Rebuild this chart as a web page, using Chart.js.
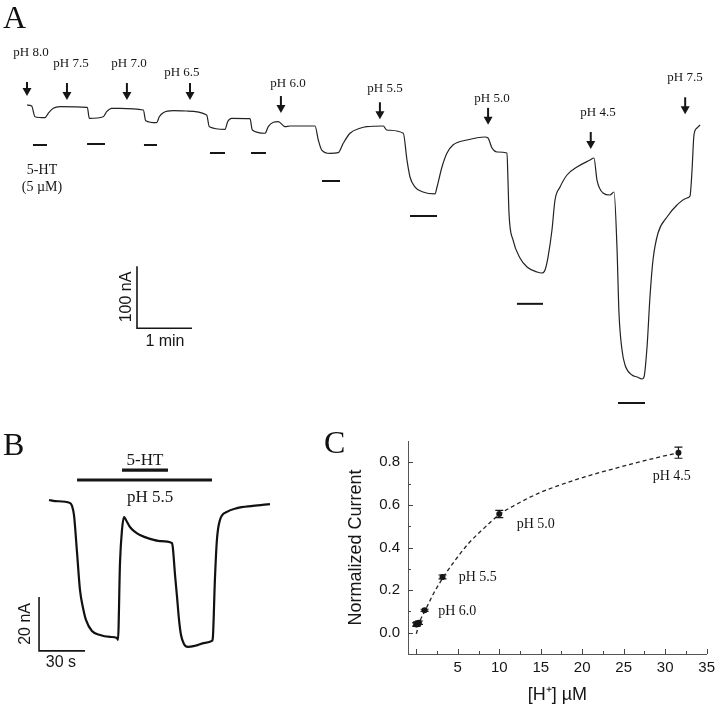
<!DOCTYPE html>
<html><head><meta charset="utf-8">
<script src="https://cdn.jsdelivr.net/npm/chart.js@4.4.1/dist/chart.umd.min.js"></script>
<style>
html,body{margin:0;padding:0;background:#fff;}
#wrap{position:relative;width:720px;height:708px;overflow:hidden;background:#fff;}
.box{position:absolute;}
.lt{position:absolute;font-family:'Liberation Serif','Times New Roman',serif;font-size:32px;line-height:32px;color:#111;}
</style></head><body>
<div id="wrap">
<div class="box" style="left:0;top:0;width:720px;height:420px"><canvas id="cA" width="720" height="420"></canvas></div>
<div class="box" style="left:0;top:400px;width:300px;height:308px"><canvas id="cB" width="300" height="308"></canvas></div>
<div class="box" style="left:300px;top:420px;width:420px;height:288px"><canvas id="cC" width="420" height="288"></canvas></div>
<div class="lt" style="left:3px;top:1px">A</div>
<div class="lt" style="left:3px;top:428px">B</div>
<div class="lt" style="left:324px;top:426px">C</div>
</div>
<script>
// ---------- Panel A: current trace (time in s, current in nA) ----------
const tA = [0,5.1,8.7,19.6,23.2,28.7,36,65.8,68,83.2,86.9,92.4,101.5,126.9,129.5,141.5,144.3,148.7,159.6,174.2,196,198.9,216,218.9,223.3,243.3,245.8,259.6,263.2,268.7,274.1,281.5,286.9,314.2,317.8,321.5,330.5,339.6,345,352.4,363.3,370.6,388.7,392.4,410.5,414.5,417.8,423.3,432,445.1,447.3,452.7,458.2,464.7,480,499.6,502.9,507.3,512.7,523.6,524.7,525.8,530.2,537.8,545.5,556.4,561.8,565.1,568.4,572.7,576,581.5,589.1,600,614.2,618.5,621.8,628.4,636,640.4,643.6,645.8,649.1,652.4,660,665.5,670.9,673.1,676.4,679.6,682.9,688.4,698.2,709.1,720,723.3,725.5,727.6,730.9,734.2];
const iA = [0,-1.6,-18.9,-20.5,-13.4,-5.3,-2.7,-3.7,-21.5,-18.9,-10.8,-5.3,-5.3,-8.1,-25.3,-28.5,-18.9,-12.4,-9.2,-9.7,-16.1,-35,-39.2,-26.9,-21.5,-22.1,-40.3,-45.6,-35,-27.9,-26.9,-35,-33.9,-33.9,-56.5,-72.6,-77.9,-76.9,-61.8,-45.6,-37.6,-35,-33.9,-40.3,-45.6,-88.7,-116.1,-132.3,-140.3,-143.5,-132.3,-100,-77.4,-64.5,-56.5,-51.6,-53.2,-69.4,-75.8,-77.4,-121,-174.2,-217.7,-246.8,-261.3,-269.4,-271,-266.1,-245.2,-201.6,-153.2,-132.3,-112.9,-100,-88.7,-85.5,-121,-141.9,-145.2,-140.3,-229,-335.5,-395.2,-419.4,-435.5,-438.7,-441.9,-438.7,-390.3,-309.7,-250,-206.5,-180.6,-161.3,-150,-146.8,-104.8,-48.4,-37.1,-32.3];
// pH change arrows
const phLabelsA = ['pH 8.0','pH 7.5','pH 7.0','pH 6.5','pH 6.0','pH 5.5','pH 5.0','pH 4.5','pH 7.5'];
const arrowTimeA = [0,43.6,109,177.8,277,385,503,615,718];
const arrowTipA = [14.5,8,8,8,-13,-23,-32,-71,-15];
const labelTimeA = [4.4,48,111.3,169,284.7,390.5,507.3,622.9,717.8];
const labelLevelA = [84,66,66,53,35,27,11,-13,44];
// 5-HT application bars
const htStartA = [6.5,65.5,127.6,199.6,244.4,321.8,417.8,534.5,644.7];
const htEndA = [21.8,85.1,141.8,216,260.7,341.5,447.3,562.9,674.2];
const htLevelA = [-64.5,-62.9,-64.5,-77.4,-77.4,-122.6,-179,-320.7,-480.6];
// scale bar: 1 min x 100 nA
const scaleTA = [120,120,180];
const scaleIA = [-260,-360,-360];

// ---------- Panel B ----------
const tB = [0,3.9,13.7,15,16.3,18.3,20.2,22.2,24.1,28,33.3,39.8,44.3,45,46.3,47.6,48.9,50.2,52.8,56.1,59.3,65.9,72.4,80.2,80.8,82.2,83.5,84.8,86.1,88,90.6,95.2,101.7,106.3,106.9,108.2,109.5,111.5,116,122.6,133,144.1];
const iB = [0,-0.4,-1.1,-2.2,-5.6,-19.6,-33.3,-40,-44.4,-48.5,-50,-50.7,-51.1,-51.8,-23.3,-11.1,-6.3,-7.4,-10,-11.8,-13,-14.4,-15.2,-15.9,-17.8,-27.8,-35.9,-44.4,-50,-53.3,-54.4,-54,-52.9,-52.2,-50.7,-29.6,-14.8,-7.4,-4.4,-3,-2.2,-1.5];
const barsB = [{label:'pH 5.5', start:18.3, end:106.3, level:7.4}, {label:'5-HT', start:47.6, end:77.6, level:11.1}];
const scaleTB = [-6.5,-6.5,23.5];
const scaleIB = [-35.9,-55.9,-55.9];

// ---------- Panel C ----------
const phC = ['pH 8.0','pH 7.5','pH 7.0','pH 6.5','pH 6.0','pH 5.5','pH 5.0','pH 4.5'];
const hPlus = [0.01,0.03,0.1,0.32,1.0,3.16,10,31.6];
const normI = [0.038,0.040,0.043,0.047,0.105,0.262,0.557,0.845];
const semI = [0.008,0.008,0.008,0.008,0.005,0.009,0.017,0.026];
const fitX = [0.0,0.48,1.08,2.08,3.28,4.69,6.29,7.9,10.1,11.9,14.7,17.9,20.7,24.7,28.7,31.6];
const fitY = [-0.005,0.058,0.105,0.184,0.262,0.34,0.419,0.481,0.557,0.599,0.654,0.701,0.736,0.779,0.819,0.845];
const xTicksC = [5,10,15,20,25,30,35];
const yTicksC = [0,0.2,0.4,0.6,0.8];
const phLabelC = {'pH 6.0':[4.93,0.098],'pH 5.5':[7.4,0.26],'pH 5.0':[14.4,0.509],'pH 4.5':[30.8,0.736]};

const SERIF = "'Liberation Serif','Times New Roman',serif";
const SANS = "'Liberation Sans',Arial,sans-serif";
const INK = '#161616';
Chart.defaults.font.family = SANS;
Chart.defaults.color = INK;

const zip = (xs, ys) => xs.map((x,i)=>({x, y:ys[i]}));
const base = (xmin,xmax,ymin,ymax) => ({
  responsive:false, animation:false, devicePixelRatio:1,
  layout:{padding:0, autoPadding:false},
  plugins:{legend:{display:false}, tooltip:{enabled:false}},
  scales:{x:{type:'linear',display:false,min:xmin,max:xmax}, y:{type:'linear',display:false,min:ymin,max:ymax}}
});

function text(ctx, s, x, y, font, rot){
  ctx.save(); ctx.translate(x,y); if(rot) ctx.rotate(rot);
  ctx.font = font; ctx.textAlign='center'; ctx.textBaseline='middle'; ctx.fillStyle=INK;
  ctx.fillText(s,0,0); ctx.restore();
}
function hbar(ctx, sx, s, e, lvl, sy, w){
  const py = sy.getPixelForValue(lvl);
  ctx.lineWidth = w; ctx.strokeStyle = INK; ctx.beginPath();
  ctx.moveTo(sx.getPixelForValue(s), py); ctx.lineTo(sx.getPixelForValue(e), py); ctx.stroke();
}

const annotA = {id:'annotA', afterDatasetsDraw(chart){
  const {ctx, scales:{x,y}} = chart;
  ctx.save();
  htStartA.forEach((s,i)=>hbar(ctx,x,s,htEndA[i],htLevelA[i],y,2));
  ctx.fillStyle = INK; ctx.strokeStyle = INK;
  arrowTimeA.forEach((t,i)=>{
    const px = x.getPixelForValue(t), tip = y.getPixelForValue(arrowTipA[i]);
    const len = i===0 ? 14 : 17;
    ctx.lineWidth = 2; ctx.beginPath(); ctx.moveTo(px, tip-len); ctx.lineTo(px, tip-6); ctx.stroke();
    ctx.beginPath(); ctx.moveTo(px-4.5, tip-8); ctx.lineTo(px+4.5, tip-8); ctx.lineTo(px, tip); ctx.closePath(); ctx.fill();
    text(ctx, phLabelsA[i], x.getPixelForValue(labelTimeA[i]), y.getPixelForValue(labelLevelA[i]), '13px '+SERIF);
  });
  text(ctx, '5-HT', x.getPixelForValue(16.4), y.getPixelForValue(-104.8), '14px '+SERIF);
  text(ctx, '(5 \u00B5M)', x.getPixelForValue(16.4), y.getPixelForValue(-132.3), '14px '+SERIF);
  text(ctx, '100 nA', x.getPixelForValue(109), y.getPixelForValue(-309.7), '16px '+SANS, -Math.PI/2);
  text(ctx, '1 min', x.getPixelForValue(150.5), y.getPixelForValue(-381), '16px '+SANS);
  ctx.restore();
}};

new Chart(document.getElementById('cA'), {
  type:'scatter',
  data:{datasets:[
    {data:zip(tA,iA), showLine:true, borderColor:'#222', borderWidth:1.2, pointRadius:0, cubicInterpolationMode:'monotone'},
    {data:zip(scaleTA,scaleIA), showLine:true, borderColor:INK, borderWidth:1.6, pointRadius:0}
  ]},
  options: base(-29.45, 756, -508.06, 169.35),
  plugins:[annotA]
});

const annotB = {id:'annotB', afterDatasetsDraw(chart){
  const {ctx, scales:{x,y}} = chart;
  ctx.save();
  barsB.forEach(b=>hbar(ctx,x,b.start,b.end,b.level,y,3.2));
  text(ctx, '5-HT', x.getPixelForValue(62.6), y.getPixelForValue(14.8), '17px '+SERIF);
  text(ctx, 'pH 5.5', x.getPixelForValue(65.9), y.getPixelForValue(1.1), '17px '+SERIF);
  text(ctx, '20 nA', x.getPixelForValue(-15), y.getPixelForValue(-45.9), '16px '+SANS, -Math.PI/2);
  text(ctx, '30 s', x.getPixelForValue(7.8), y.getPixelForValue(-60.3), '16px '+SANS);
  ctx.restore();
}};

new Chart(document.getElementById('cB'), {
  type:'scatter',
  data:{datasets:[
    {data:zip(tB,iB), showLine:true, borderColor:'#111', borderWidth:2.2, pointRadius:0, cubicInterpolationMode:'monotone'},
    {data:zip(scaleTB,scaleIB), showLine:true, borderColor:INK, borderWidth:1.6, pointRadius:0}
  ]},
  options: base(-31.96, 163.7, -77.04, 37.04),
  plugins:[annotB]
});

const annotC = {id:'annotC', afterDatasetsDraw(chart){
  const {ctx, scales:{x,y}} = chart;
  ctx.save();
  ctx.strokeStyle = INK; ctx.lineWidth = 1.2;
  // error bars
  hPlus.forEach((h,i)=>{
    const px = x.getPixelForValue(h), y1 = y.getPixelForValue(normI[i]-semI[i]), y2 = y.getPixelForValue(normI[i]+semI[i]);
    ctx.beginPath(); ctx.moveTo(px,y1); ctx.lineTo(px,y2);
    ctx.moveTo(px-4,y1); ctx.lineTo(px+4,y1); ctx.moveTo(px-4,y2); ctx.lineTo(px+4,y2); ctx.stroke();
  });
  // inward ticks
  ctx.strokeStyle = '#444'; ctx.lineWidth = 1;
  const x0 = x.left, yb = y.bottom;
  for(let k=0;k<=8;k++){ const v = k/10; const py = Math.round(y.getPixelForValue(v))+0.5; const L = (k%2===0)?5:3;
    ctx.beginPath(); ctx.moveTo(x0,py); ctx.lineTo(x0+L,py); ctx.stroke(); }
  for(let k=0;k<=14;k++){ const v = k*2.5; const px = Math.round(x.getPixelForValue(v))+0.5; const L = (k%2===0)?5:3;
    ctx.beginPath(); ctx.moveTo(px,yb); ctx.lineTo(px,yb-L); ctx.stroke(); }
  Object.entries(phLabelC).forEach(([s,[a,b]])=>text(ctx, s, x.getPixelForValue(a), y.getPixelForValue(b), '14px '+SERIF));
  ctx.restore();
}};

new Chart(document.getElementById('cC'), {
  type:'scatter',
  data:{datasets:[
    {data:zip(fitX,fitY), showLine:true, borderColor:'#222', borderWidth:1.3, borderDash:[4,3], pointRadius:0, cubicInterpolationMode:'monotone'},
    {data:zip(hPlus,normI), showLine:false, pointRadius:3, pointBackgroundColor:INK, pointBorderWidth:0}
  ]},
  options:{
    responsive:false, animation:false, devicePixelRatio:1,
    layout:{padding:{left:0,top:21,right:13,bottom:0}, autoPadding:false},
    plugins:{legend:{display:false}, tooltip:{enabled:false}},
    scales:{
      x:{type:'linear', min:-1, max:35,
        afterBuildTicks:s=>{s.ticks = xTicksC.map(v=>({value:v}));},
        afterFit:s=>{s.height = 54;},
        grid:{display:false, drawTicks:false}, border:{display:true, color:'#555', width:1},
        ticks:{padding:5, font:{size:15}, color:INK, callback:v=>String(v)},
        title:{display:true, text:'[H\u207A] \u00B5M', font:{size:18}, color:INK, padding:{top:0,bottom:2}}},
      y:{type:'linear', min:-0.1, max:0.9,
        afterBuildTicks:s=>{s.ticks = yTicksC.map(v=>({value:v}));},
        afterFit:s=>{s.width = 108;},
        grid:{display:false, drawTicks:false}, border:{display:true, color:'#555', width:1},
        ticks:{padding:8, font:{size:15}, color:INK, callback:v=>Number(v).toFixed(1)},
        title:{display:true, text:'Normalized Current', font:{size:18}, color:INK, padding:{top:45,bottom:0}}}
    }
  },
  plugins:[annotC]
});
</script>
</body></html>
